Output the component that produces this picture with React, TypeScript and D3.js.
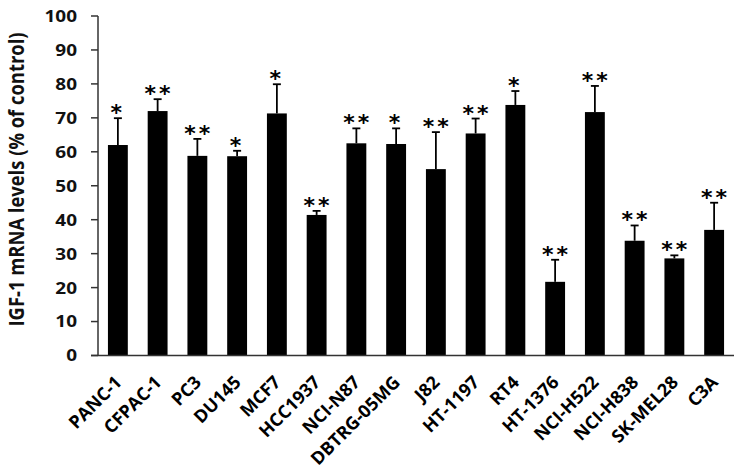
import React from "react";
import * as d3 from "d3";

const categories = ["PANC-1","CFPAC-1","PC3","DU145","MCF7","HCC1937","NCI-N87","DBTRG-05MG","J82","HT-1197","RT4","HT-1376","NCI-H522","NCI-H838","SK-MEL28","C3A"];
const means = [62,72,58.8,58.7,71.3,41.4,62.5,62.3,54.9,65.4,73.8,21.7,71.7,33.8,28.6,37];
const errors = [7.9,3.5,5,1.6,8.6,1.2,4.4,4.6,10.9,4.4,4.1,6.5,7.7,4.5,0.9,8];
const stars = ["*","**","**","*","*","**","**","*","**","**","*","**","**","**","**","**"];
const yTicks = [0,10,20,30,40,50,60,70,80,90,100];

const W = 738, H = 474;
const left = 98, right = 734, top = 16, bottom = 355.5;
const font = "'Open Sans', sans-serif";
const axisColor = "#333";
const sx = 1.15;

export default function App() {
  const x = d3.scaleBand<string>().domain(categories).range([left, right]).paddingInner(0.5).paddingOuter(0.25);
  const y = d3.scaleLinear().domain([0, 100]).range([bottom, top]);
  return (
    <svg width={W} height={H} style={{ position: "absolute", left: 0, top: 0, background: "#fff" }} fontFamily={font}>
      {categories.map((c, i) => {
        const bx = x(c)!;
        const cx = bx + x.bandwidth() / 2;
        const eTop = y(means[i] + errors[i]);
        return (
          <g key={c}>
            <rect x={bx} y={y(means[i])} width={x.bandwidth()} height={bottom - y(means[i])} fill="#000" />
            <line x1={cx} x2={cx} y1={y(means[i])} y2={eTop} stroke="#000" strokeWidth={1.8} />
            <line x1={cx - 4} x2={cx + 4} y1={eTop} y2={eTop} stroke="#000" strokeWidth={1.8} />
            <text x={cx + (stars[i].length > 1 ? 1.5 : 0)} y={eTop + 2} textAnchor="middle" fontSize={22} fontWeight="bold" fontFamily="'DejaVu Sans', sans-serif" letterSpacing={3} fill="#000">{stars[i]}</text>
            <text transform={`translate(${cx + 5},${bottom + 28}) rotate(-45)`} textAnchor="end" fontSize={18} fontWeight="bold" fill="#000">{c}</text>
          </g>
        );
      })}
      <line x1={left} x2={left} y1={top} y2={bottom} stroke={axisColor} strokeWidth={1.5} />
      <line x1={left - 7} x2={right} y1={bottom} y2={bottom} stroke={axisColor} strokeWidth={1.5} />
      {yTicks.map(t => (
        <g key={t}>
          <line x1={left - 7} x2={left} y1={y(t)} y2={y(t)} stroke={axisColor} strokeWidth={1.5} />
          <text transform={`translate(${left - 21},${y(t)}) scale(${sx},1)`} dy="0.36em" textAnchor="end" fontSize={16.5} fontWeight="bold" fill="#111">{t}</text>
        </g>
      ))}
      <text transform={`translate(24,${(32 + 327) / 2}) scale(${sx},1) rotate(-90)`} textAnchor="middle" fontSize={18.4} fontWeight="bold" fill="#111">IGF-1 mRNA levels (% of control)</text>
    </svg>
  );
}
